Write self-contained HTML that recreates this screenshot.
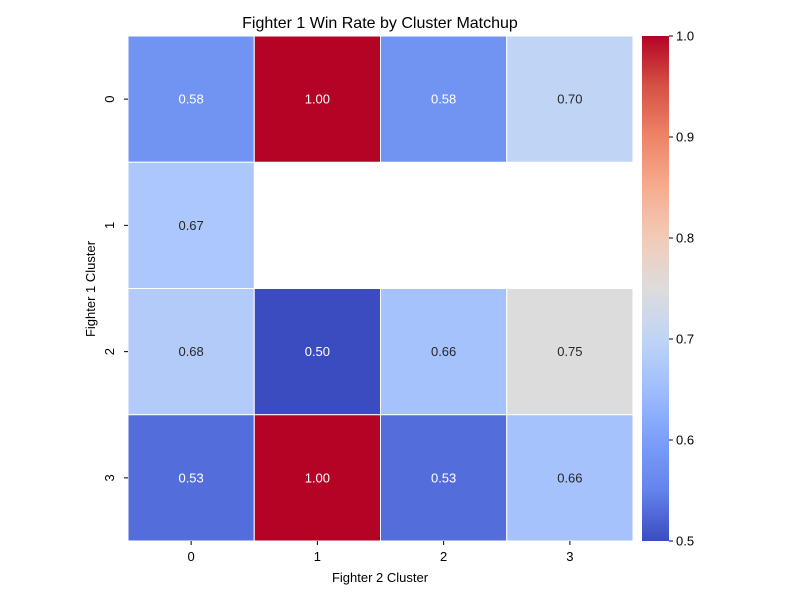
<!DOCTYPE html>
<html><head><meta charset="utf-8"><style>
body{margin:0;background:#fff;font-family:"Liberation Sans","DejaVu Sans",sans-serif;}
</style></head><body>
<svg id="chart" width="800" height="600" xmlns="http://www.w3.org/2000/svg">
<text x="380" y="28" font-size="16" text-anchor="middle" fill="#000">Fighter 1 Win Rate by Cluster Matchup</text>
<g id="cells"></g>
<g id="axes"></g>
<text x="380" y="582" font-size="13" text-anchor="middle">Fighter 2 Cluster</text>
<text x="95" y="289" font-size="13" text-anchor="middle" transform="rotate(-90 95 289)">Fighter 1 Cluster</text>
<defs><linearGradient id="cbg" x1="0" y1="1" x2="0" y2="0"></linearGradient></defs>
<rect x="642" y="36" width="27" height="505" fill="url(#cbg)"/>
<g id="cbticks"></g>
</svg>
<script>
const xCategories=["0","1","2","3"];
const yCategories=["0","1","2","3"];
const row0=[0.58,1.00,0.58,0.70];
const row1=[0.67,null,null,null];
const row2=[0.68,0.50,0.66,0.75];
const row3=[0.53,1.00,0.53,0.66];
const values=[row0,row1,row2,row3];
const colorbarTicks=[0.5,0.6,0.7,0.8,0.9,1.0];
const vmin=0.5,vmax=1.0;
const stops=["3b4cc0","6384eb","7b9ff9","9ebeff","c0d4f5","dddcdc","f2cbb7","f7ac8e","ee8468","d65244","b40426"];
function hex(h){return [parseInt(h.slice(0,2),16),parseInt(h.slice(2,4),16),parseInt(h.slice(4,6),16)];}
function cmap(v){let t=Math.max(0,Math.min(1,(v-vmin)/(vmax-vmin)))*(stops.length-1);let i=Math.min(Math.floor(t),stops.length-2),f=t-i;let a=hex(stops[i]),b=hex(stops[i+1]);return a.map((c,k)=>Math.round(c+(b[k]-c)*f));}
function relLum(c){const l=c.map(x=>{x/=255;return x<=0.03928?x/12.92:Math.pow((x+0.055)/1.055,2.4);});return 0.2126*l[0]+0.7152*l[1]+0.0722*l[2];}
const X0=128,Y0=36,W=505,H=505;
const cw=W/xCategories.length,ch=H/yCategories.length;
const xs=i=>X0+i*cw, ys=j=>Y0+j*ch;
const NS="http://www.w3.org/2000/svg";
const cells=document.getElementById('cells');
values.forEach((row,j)=>row.forEach((v,i)=>{
 if(v===null)return;
 const c=cmap(v);
 const r=document.createElementNS(NS,'rect');
 r.setAttribute('x',xs(i));r.setAttribute('y',ys(j));r.setAttribute('width',cw);r.setAttribute('height',ch);
 r.setAttribute('fill',`rgb(${c})`);r.setAttribute('stroke','#fff');r.setAttribute('stroke-width','1');
 
 
 cells.appendChild(r);
 const t=document.createElementNS(NS,'text');
 t.setAttribute('x',xs(i)+cw/2);t.setAttribute('y',ys(j)+ch/2+4.5);t.setAttribute('text-anchor','middle');t.setAttribute('font-size','13');
 t.setAttribute('fill',relLum(c)>0.408?'#262626':'#fff');t.textContent=v.toFixed(2);
 
 
 cells.appendChild(t);
}));
const axes=document.getElementById('axes');
xCategories.forEach((c,i)=>{
 const x=xs(i)+cw/2;
 const l=document.createElementNS(NS,'line');l.setAttribute('x1',x);l.setAttribute('x2',x);l.setAttribute('y1',Y0+H);l.setAttribute('y2',Y0+H+4);l.setAttribute('stroke','#000');axes.appendChild(l);
 const t=document.createElementNS(NS,'text');t.setAttribute('x',x);t.setAttribute('y',Y0+H+20);t.setAttribute('text-anchor','middle');t.setAttribute('font-size','13');t.textContent=c;
 
 
 axes.appendChild(t);
});
yCategories.forEach((c,j)=>{
 const y=ys(j)+ch/2;
 const l=document.createElementNS(NS,'line');l.setAttribute('x1',X0-4);l.setAttribute('x2',X0);l.setAttribute('y1',y);l.setAttribute('y2',y);l.setAttribute('stroke','#000');axes.appendChild(l);
 const t=document.createElementNS(NS,'text');t.setAttribute('x',114);t.setAttribute('y',y);t.setAttribute('text-anchor','middle');t.setAttribute('font-size','13');t.setAttribute('transform',`rotate(-90 114 ${y})`);t.textContent=c;
 
 
 axes.appendChild(t);
});
const g=document.getElementById('cbg');
stops.forEach((s,k)=>{const st=document.createElementNS(NS,'stop');st.setAttribute('offset',k/(stops.length-1));st.setAttribute('stop-color','#'+s);g.appendChild(st);});
const cbt=document.getElementById('cbticks');
colorbarTicks.forEach(v=>{
 const y=541-(v-vmin)/(vmax-vmin)*505;
 const l=document.createElementNS(NS,'line');l.setAttribute('x1',669);l.setAttribute('x2',673);l.setAttribute('y1',y);l.setAttribute('y2',y);l.setAttribute('stroke','#000');cbt.appendChild(l);
 const t=document.createElementNS(NS,'text');t.setAttribute('x',676);t.setAttribute('y',y+4.5);t.setAttribute('font-size','13');t.textContent=v.toFixed(1);
 
 
 cbt.appendChild(t);
});
</script>
</body></html>
